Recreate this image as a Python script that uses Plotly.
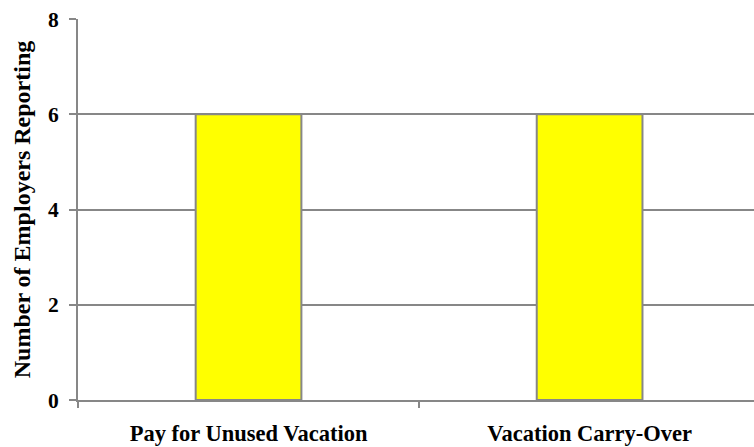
import plotly.graph_objects as go

categories = ["Pay for Unused Vacation", "Vacation Carry-Over"]
employers = [6, 6]
y_ticks = [0, 2, 4, 6, 8]

FONT = "Liberation Serif"
GRAY = "#878787"

fig = go.Figure()
fig.add_trace(
    go.Bar(
        x=categories,
        y=employers,
        width=0.31,
        marker={"color": "#ffff00", "line": {"color": GRAY, "width": 2}},
        hoverinfo="skip",
    )
)

fig.update_layout(
    width=754,
    height=447,
    margin={"l": 78, "r": 0, "t": 19, "b": 47},
    paper_bgcolor="white",
    plot_bgcolor="white",
    showlegend=False,
    font={"family": FONT, "color": "black"},
    xaxis={
        "range": [-0.5, 1.482],
        "showgrid": False,
        "showline": True,
        "linecolor": GRAY,
        "linewidth": 2,
        "ticks": "outside",
        "tickson": "boundaries",
        "ticklen": 6,
        "tickcolor": GRAY,
        "tickwidth": 2,
        "tickvals": categories,
        "ticktext": [f"<b>{c}</b>" for c in categories],
        "tickfont": {"family": FONT, "size": 22.5},
        "ticklabelstandoff": 12,
    },
    yaxis={
        "range": [0, 8],
        "tickvals": y_ticks,
        "ticktext": [f"<b>{v}</b>" for v in y_ticks],
        "showgrid": True,
        "gridcolor": GRAY,
        "gridwidth": 2,
        "zeroline": False,
        "showline": True,
        "linecolor": GRAY,
        "linewidth": 2,
        "ticks": "outside",
        "ticklen": 7,
        "tickcolor": GRAY,
        "tickwidth": 2,
        "tickfont": {"family": FONT, "size": 21.5},
        "ticklabelstandoff": 6,
        "title": {
            "text": "<b>Number of Employers Reporting</b>",
            "font": {"family": FONT, "size": 24},
            "standoff": 11,
        },
    },
)

fig.write_html(
    "out.html",
    config={"displayModeBar": False},
    post_script="document.body.style.margin='0';",
)
